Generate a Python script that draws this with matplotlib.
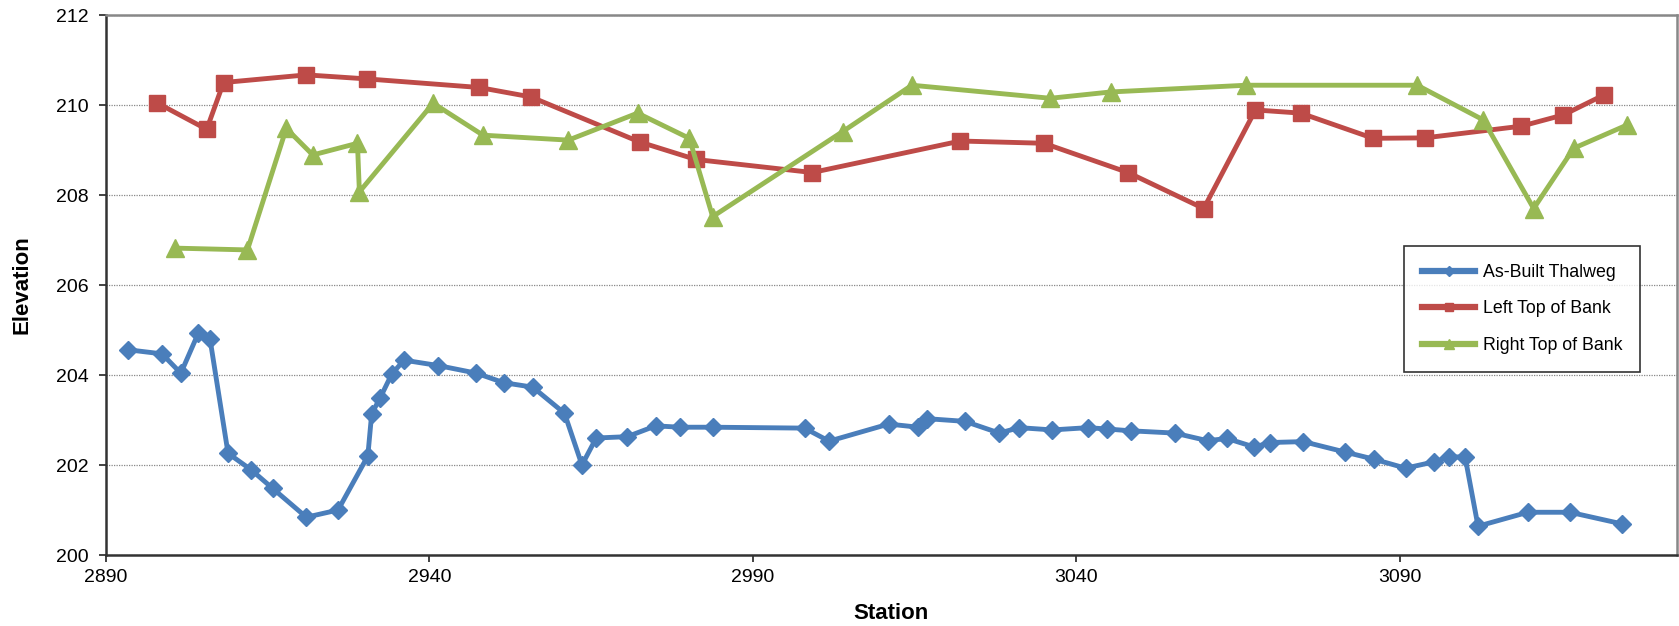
import matplotlib
matplotlib.use("Agg")
import matplotlib.pyplot as plt

plt.rcParams['font.family'] = ['Liberation Sans', 'DejaVu Sans']

# As-built thalweg survey
thalweg_station = [2893.5, 2898.7, 2901.6, 2904.3, 2906.1, 2908.9, 2912.5, 2915.8, 2921.0, 2925.9,
                   2930.5, 2931.1, 2932.4, 2934.2, 2936.1, 2941.4, 2947.3, 2951.5, 2956.0, 2960.9,
                   2963.6, 2965.8, 2970.6, 2975.0, 2978.8, 2983.8, 2998.0, 3001.8, 3011.0, 3015.6,
                   3016.9, 3022.8, 3028.1, 3031.2, 3036.3, 3041.8, 3044.8, 3048.4, 3055.2, 3060.3,
                   3063.3, 3067.5, 3070.0, 3075.1, 3081.5, 3086.0, 3090.9, 3095.3, 3097.6, 3100.1,
                   3102.1, 3109.8, 3116.3, 3124.4]
thalweg_elev = [204.56, 204.47, 204.04, 204.93, 204.81, 202.26, 201.89, 201.48, 200.84, 201.00,
                202.20, 203.14, 203.49, 204.02, 204.33, 204.21, 204.04, 203.83, 203.73, 203.15,
                202.00, 202.60, 202.63, 202.87, 202.84, 202.84, 202.82, 202.53, 202.91, 202.84,
                203.03, 202.97, 202.71, 202.83, 202.78, 202.83, 202.80, 202.76, 202.71, 202.54,
                202.59, 202.40, 202.50, 202.52, 202.29, 202.13, 201.93, 202.07, 202.18, 202.18,
                200.64, 200.95, 200.95, 200.69]

# Left top of bank
left_station = [2897.9, 2905.6, 2908.2, 2921.0, 2930.4, 2947.7, 2955.7, 2972.5, 2981.2, 2999.2,
                3022.1, 3035.0, 3048.0, 3059.7, 3067.7, 3074.7, 3085.9, 3093.9, 3108.8, 3115.3,
                3121.5]
left_elev = [210.05, 209.46, 210.50, 210.67, 210.58, 210.39, 210.18, 209.18, 208.79, 208.50,
             209.20, 209.15, 208.50, 207.70, 209.89, 209.82, 209.26, 209.27, 209.53, 209.78,
             210.22]

# Right top of bank
right_station = [2900.7, 2911.9, 2917.9, 2922.0, 2928.9, 2929.2, 2940.6, 2948.3, 2961.5, 2972.2,
                 2980.2, 2983.8, 3003.9, 3014.6, 3036.0, 3045.3, 3066.3, 3092.7, 3102.9, 3110.7,
                 3116.9, 3125.2]
right_elev = [206.82, 206.78, 209.48, 208.89, 209.15, 208.07, 210.04, 209.33, 209.22, 209.82,
              209.26, 207.52, 209.41, 210.44, 210.15, 210.29, 210.44, 210.44, 209.67, 207.70,
              209.04, 209.56]

x_ticks = [2890, 2940, 2990, 3040, 3090]
y_ticks = [200, 202, 204, 206, 208, 210, 212]

fig = plt.figure(figsize=(16.79, 6.26), dpi=100)
ax = fig.add_axes([0.063, 0.1134, 0.9356, 0.8626])

ax.plot(thalweg_station, thalweg_elev, color='#4A7EBB', lw=3.5, marker='D', ms=9.5,
        mec='#4A7EBB', label='As-Built Thalweg', zorder=3)
ax.plot(left_station, left_elev, color='#BE4B48', lw=3.5, marker='s', ms=11,
        mec='#BE4B48', label='Left Top of Bank', zorder=3)
ax.plot(right_station, right_elev, color='#98B954', lw=3.5, marker='^', ms=13,
        mec='#98B954', label='Right Top of Bank', zorder=3)

ax.set_xlim(2890, 3132.8)
ax.set_ylim(200, 212)
ax.set_xticks(x_ticks)
ax.set_yticks(y_ticks)
ax.tick_params(labelsize=14, length=5, width=1.2, direction='out', color='#222222')
ax.tick_params(axis='y', pad=7)
ax.tick_params(axis='x', pad=5)

ax.grid(axis='y', linestyle=(0, (1, 1)), color='#888888', lw=0.9)
ax.set_axisbelow(True)

for side in ('left', 'bottom'):
    ax.spines[side].set_color('#333333')
    ax.spines[side].set_linewidth(1.8)
for side in ('top', 'right'):
    ax.spines[side].set_color('#888888')
    ax.spines[side].set_linewidth(1.8)

ax.set_xlabel('Station', fontsize=16, fontweight='bold', labelpad=12)
ax.set_ylabel('Elevation', fontsize=16, fontweight='bold', labelpad=17)

leg = ax.legend(loc='upper left', bbox_to_anchor=(0.8265, 0.572), fontsize=12.8,
                frameon=True, fancybox=False, edgecolor='#000000', handlelength=3.0,
                markerscale=0.5, borderpad=1.0, labelspacing=1.1, handletextpad=0.45,
                borderaxespad=0)
leg.get_frame().set_linewidth(1.2)
for h in leg.get_lines():
    h.set_linewidth(4.5)

fig.text(0.468, 1 - 0.4 / 626, 'Station vs. Elevation', fontsize=16, fontweight='bold',
         ha='center', va='baseline', color='#333333')

fig.savefig('out.png', dpi=100)
